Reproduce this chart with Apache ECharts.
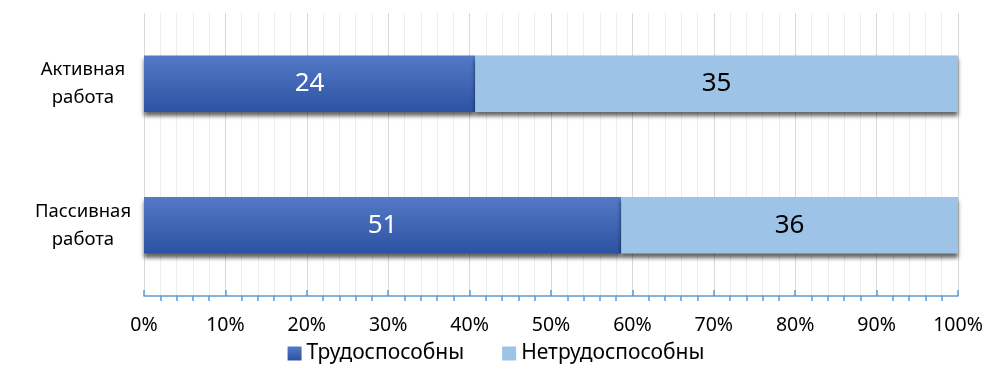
<!DOCTYPE html>
<html><head><meta charset="utf-8">
<script src="https://cdn.jsdelivr.net/npm/echarts@6/dist/echarts.min.js"></script>
<style>html,body{margin:0;padding:0;background:#fff}#c{width:992px;height:372px}</style>
</head><body><div id="c"></div>
<script>
const categories = ['Активная\nработа', 'Пассивная\nработа'];
const seriesNames = ['Трудоспособны', 'Нетрудоспособны'];
const able = [24, 51];
const unable = [35, 36];
const tickLabels = ['0%','10%','20%','30%','40%','50%','60%','70%','80%','90%','100%'];

const totals = able.map((v, i) => v + unable[i]);
const pct = (arr) => arr.map((v, i) => ({ value: v / totals[i] * 100, raw: v }));

const font = '"Noto Sans", "Open Sans", sans-serif';
const chart = echarts.init(document.getElementById('c'));
const shadow = { shadowColor: 'rgba(0,0,0,0.6)', shadowBlur: 4, shadowOffsetY: 4 };
chart.setOption({
  animation: false,
  grid: { left: 144, right: 34, top: 13, bottom: 76 },
  legend: {
    bottom: 3, left: 'center', itemWidth: 14, itemHeight: 14, itemGap: 38,
    icon: 'rect',
    textStyle: { fontFamily: font, fontSize: 21, color: '#000' },
    data: seriesNames
  },
  xAxis: [{
    type: 'value', min: 0, max: 100, interval: 10,
    axisLine: { show: true, lineStyle: { color: '#5b9bd5', width: 1.5 } },
    axisTick: { show: true, inside: true, length: 6, lineStyle: { color: '#5b9bd5', width: 1.5 } },
    axisLabel: { fontFamily: font, fontSize: 19.5, color: '#000', margin: 19,
      formatter: (v) => tickLabels[Math.round(v / 10)] },
    splitLine: { show: true, lineStyle: { color: '#d9d9d9' } },
    minorTick: { show: false },
    minorSplitLine: { show: true, lineStyle: { color: '#ededed' } }
  }, {
    type: 'value', min: 0, max: 100, interval: 10, position: 'bottom',
    axisLine: { show: false },
    axisTick: { show: false, inside: false },
    axisLabel: { show: false },
    splitLine: { show: false },
    minorTick: { show: true, splitNumber: 5, length: 5, lineStyle: { color: '#5b9bd5', width: 1.5 } }
  }],
  yAxis: {
    type: 'category', inverse: true, data: categories,
    axisLine: { show: false }, axisTick: { show: false },
    axisLabel: { fontFamily: font, fontSize: 18.5, color: '#000', align: 'center', margin: 61, lineHeight: 28 }
  },
  series: [{
    name: seriesNames[0], type: 'bar', stack: 'a', barWidth: '40%',
    data: pct(able),
    itemStyle: Object.assign({
      color: new echarts.graphic.LinearGradient(0, 0, 0, 1, [
        { offset: 0, color: '#5479c6' }, { offset: 1, color: '#2c52a2' }])
    }, shadow),
    label: { show: true, position: 'inside', color: '#fff', fontFamily: font, fontSize: 26,
      formatter: (p) => p.data.raw }
  }, {
    name: seriesNames[1], type: 'bar', stack: 'a', barWidth: '40%',
    data: pct(unable),
    itemStyle: Object.assign({ color: '#9dc3e6' }, shadow),
    label: { show: true, position: 'inside', color: '#000', fontFamily: font, fontSize: 26,
      formatter: (p) => p.data.raw }
  }]
});
</script></body></html>
